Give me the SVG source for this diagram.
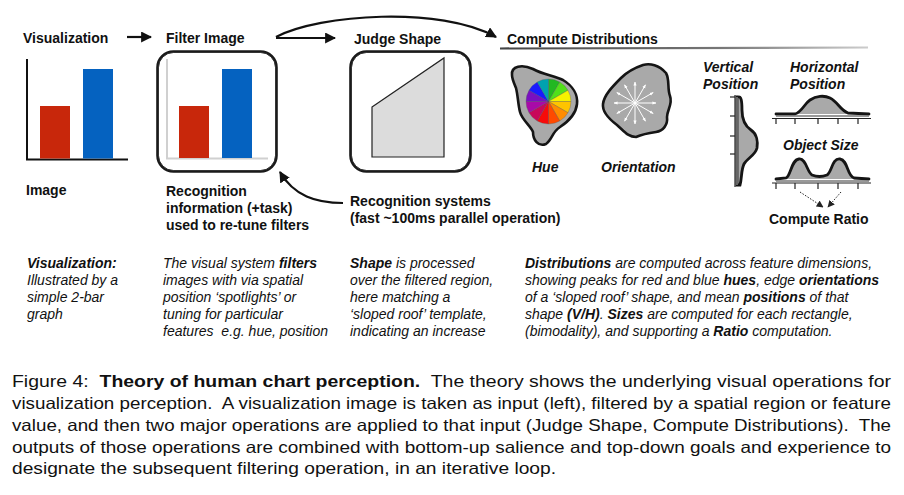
<svg xmlns="http://www.w3.org/2000/svg" width="904" height="495" viewBox="0 0 904 495">
<style>
.t{font-family:"Liberation Sans",Arial,sans-serif;font-weight:bold;font-size:14px;fill:#111}
.ti{font-family:"Liberation Sans",Arial,sans-serif;font-weight:bold;font-style:italic;font-size:14px;fill:#111}
.d{font-family:"Liberation Sans",Arial,sans-serif;font-style:italic;font-size:14px;fill:#111}
.d tspan.b{font-weight:bold}
.c{font-family:"Liberation Sans",Arial,sans-serif;font-size:16.5px;fill:#111}
.box{fill:none;stroke:#1a1a1a;stroke-width:2.6}
.box2{fill:none;stroke:#333;stroke-width:1}
.ln{fill:none;stroke:#111;stroke-width:2.2}
.blob{fill:#a9a9a9;stroke:#151515;stroke-width:2.6;stroke-linejoin:round}
.dist{fill:#a9a9a9;stroke:#151515;stroke-width:2.8;stroke-linecap:round}
.ax{stroke:#222;stroke-width:1.2;fill:none}
.ray{stroke:#fff;stroke-width:1;marker-end:url(#wh)}
</style>
<defs>
<marker id="ah" viewBox="0 0 10 10" refX="9" refY="5" markerWidth="5" markerHeight="5" orient="auto" markerUnits="strokeWidth">
<path d="M0,0 L10,5 L0,10 Z" fill="#111"/>
</marker>
<marker id="sm" viewBox="0 0 10 10" refX="9" refY="5" markerWidth="7" markerHeight="7" orient="auto" markerUnits="strokeWidth">
<path d="M0,0 L10,5 L0,10 Z" fill="#222"/>
</marker>
<marker id="wh" viewBox="0 0 10 10" refX="9" refY="5" markerWidth="4" markerHeight="4" orient="auto" markerUnits="strokeWidth">
<path d="M0,1 L10,5 L0,9 Z" fill="#fff"/>
</marker>
<linearGradient id="ul" x1="0" y1="0" x2="1" y2="0">
<stop offset="0" stop-color="#444"/>
<stop offset="0.6" stop-color="#777"/>
<stop offset="1" stop-color="#ccc"/>
</linearGradient>
</defs>

<g id="connectors">
<line class="ln" x1="127" y1="37" x2="151" y2="37" marker-end="url(#ah)"/>
<line class="ln" x1="276" y1="38" x2="335" y2="38" marker-end="url(#ah)"/>
<path class="ln" d="M276,37 C320,14 440,6 496,37" marker-end="url(#ah)"/>
<path class="ln" d="M343,203 C316,203 294,196 280,172" marker-end="url(#ah)"/>
<line x1="800" y1="192" x2="823" y2="207" stroke="#222" stroke-width="1" stroke-dasharray="1.5,1.5" marker-end="url(#sm)"/>
<line x1="841" y1="192" x2="828" y2="207" stroke="#222" stroke-width="1" stroke-dasharray="1.5,1.5" marker-end="url(#sm)"/>
</g>

<g id="visualization">
<text class="t" x="23" y="42.5">Visualization</text>
<line x1="27" y1="59" x2="27" y2="160" stroke="#111" stroke-width="2"/>
<line x1="26" y1="159.5" x2="128" y2="159.5" stroke="#111" stroke-width="2"/>
<rect x="40" y="106" width="30" height="52.5" fill="#c8270b"/>
<rect x="83" y="69" width="30" height="89.5" fill="#0562c0"/>
<text class="t" x="26" y="195">Image</text>
</g>

<g id="filter-image">
<text class="t" x="166" y="42.5">Filter Image</text>
<rect class="box" x="157.5" y="51.5" width="119" height="120" rx="16"/>
<rect class="box2" x="158.5" y="52.5" width="117" height="118" rx="15"/>
<line x1="167" y1="59" x2="167" y2="159" stroke="#d0d0d0" stroke-width="2"/>
<line x1="166" y1="158.5" x2="268" y2="158.5" stroke="#d0d0d0" stroke-width="2"/>
<rect x="179" y="106" width="30" height="52" fill="#c8270b"/>
<rect x="222" y="69" width="30" height="89" fill="#0562c0"/>
<text class="t" x="166" y="196">Recognition</text>
<text class="t" x="166" y="213">information (+task)</text>
<text class="t" x="166" y="230">used to re-tune filters</text>
</g>

<g id="judge-shape">
<text class="t" x="354" y="44">Judge Shape</text>
<rect class="box" x="350.5" y="51.5" width="120" height="120" rx="16"/>
<rect class="box2" x="351.5" y="52.5" width="118" height="118" rx="15"/>
<path d="M372,107 L444,58 L444,157 L372,157 Z" fill="#dcdcdc" stroke="#222" stroke-width="1.2"/>
</g>

<g id="recognition-systems">
<text class="t" x="350" y="206">Recognition systems</text>
<text class="t" x="350" y="223">(fast ~100ms parallel operation)</text>
</g>

<g id="compute-distributions">
<text class="t" x="507" y="44">Compute Distributions</text>
<line x1="500" y1="48.5" x2="868" y2="47.5" stroke="url(#ul)" stroke-width="2.2"/>
</g>

<g id="hue">
<path class="blob" d="M512,75 C511,66 522,64 533,69 C542,74 554,76 563,80 C573,86 578,95 577,104 C576,114 569,121 560,127 C552,132 552,140 546,144 C538,147 533,140 533,132 C531,126 522,120 520,112 C518,104 518,96 516,88 C514,83 512,79 512,75 Z"/>
<g stroke="#555" stroke-width="0.3">
<path d="M548.5,101.5 L548.5,79 A22.5,22.5 0 0 1 559.75,82.01 Z" fill="#22b822"/>
<path d="M548.5,101.5 L559.75,82.01 A22.5,22.5 0 0 1 567.99,90.25 Z" fill="#52e01a"/>
<path d="M548.5,101.5 L567.99,90.25 A22.5,22.5 0 0 1 571,101.5 Z" fill="#f6f200"/>
<path d="M548.5,101.5 L571,101.5 A22.5,22.5 0 0 1 567.99,112.75 Z" fill="#ffc400"/>
<path d="M548.5,101.5 L567.99,112.75 A22.5,22.5 0 0 1 559.75,120.99 Z" fill="#ff8c00"/>
<path d="M548.5,101.5 L559.75,120.99 A22.5,22.5 0 0 1 548.5,124 Z" fill="#ff4a00"/>
<path d="M548.5,101.5 L548.5,124 A22.5,22.5 0 0 1 537.25,120.99 Z" fill="#f70a0a"/>
<path d="M548.5,101.5 L537.25,120.99 A22.5,22.5 0 0 1 529.01,112.75 Z" fill="#c8085a"/>
<path d="M548.5,101.5 L529.01,112.75 A22.5,22.5 0 0 1 526,101.5 Z" fill="#a80aa8"/>
<path d="M548.5,101.5 L526,101.5 A22.5,22.5 0 0 1 529.01,90.25 Z" fill="#7a10c0"/>
<path d="M548.5,101.5 L529.01,90.25 A22.5,22.5 0 0 1 537.25,82.01 Z" fill="#1a1aff"/>
<path d="M548.5,101.5 L537.25,82.01 A22.5,22.5 0 0 1 548.5,79 Z" fill="#00a2b0"/>
</g>
<text class="ti" x="532" y="172">Hue</text>
</g>

<g id="orientation">
<path class="blob" d="M603,104 C604,95 613,86 621,78 C627,72 634,68 643,65 C650,63 659,65 666,73 C670,80 667,88 670,96 C673,104 667,110 667,117 C668,125 663,131 656,132 C649,133 643,134 636,137 C628,137 624,131 617,125 C609,119 602,112 603,104 Z"/>
<line class="ray" x1="635" y1="103" x2="656" y2="103"/>
<line class="ray" x1="635" y1="103" x2="653.2" y2="113.5"/>
<line class="ray" x1="635" y1="103" x2="645.5" y2="121.2"/>
<line class="ray" x1="635" y1="103" x2="635" y2="124"/>
<line class="ray" x1="635" y1="103" x2="624.5" y2="121.2"/>
<line class="ray" x1="635" y1="103" x2="616.8" y2="113.5"/>
<line class="ray" x1="635" y1="103" x2="614" y2="103"/>
<line class="ray" x1="635" y1="103" x2="616.8" y2="92.5"/>
<line class="ray" x1="635" y1="103" x2="624.5" y2="84.8"/>
<line class="ray" x1="635" y1="103" x2="635" y2="82"/>
<line class="ray" x1="635" y1="103" x2="645.5" y2="84.8"/>
<line class="ray" x1="635" y1="103" x2="653.2" y2="92.5"/>
<text class="ti" x="601" y="172">Orientation</text>
</g>

<g id="vertical-position">
<text class="ti" x="703" y="72">Vertical</text>
<text class="ti" x="703" y="89">Position</text>
<line class="ax" x1="735" y1="95" x2="735" y2="187"/>
<line class="ax" x1="730" y1="97" x2="735" y2="97"/>
<line class="ax" x1="730" y1="116" x2="735" y2="116"/>
<line class="ax" x1="730" y1="136" x2="735" y2="136"/>
<line class="ax" x1="730" y1="154" x2="735" y2="154"/>
<path class="dist" d="M738,97 C741,96 742,100 742,110 C742,120 745,126 751,130 C757,134 758,142 757,148 C755,156 747,158 744,164 C741,170 742,178 740,185 L737,185 L737,97 Z"/>
<line x1="737" y1="97" x2="737" y2="185" stroke="#666" stroke-width="2"/>
</g>

<g id="horizontal-position">
<text class="ti" x="790" y="72">Horizontal</text>
<text class="ti" x="790" y="89">Position</text>
<line class="ax" x1="772" y1="118.5" x2="871" y2="118.5"/>
<line class="ax" x1="776" y1="118.5" x2="776" y2="124"/>
<line class="ax" x1="795" y1="118.5" x2="795" y2="124"/>
<line class="ax" x1="818" y1="118.5" x2="818" y2="124"/>
<line class="ax" x1="838" y1="118.5" x2="838" y2="124"/>
<line class="ax" x1="858" y1="118.5" x2="858" y2="124"/>
<path class="dist" d="M776,114 L795,114 C802,112 804,104 810,100 C816,96 824,95 830,98 C838,102 840,110 848,113 L869,114"/>
<line x1="776" y1="116" x2="869" y2="116" stroke="#777" stroke-width="1.5"/>
</g>

<g id="object-size">
<text class="ti" x="783" y="150">Object Size</text>
<line class="ax" x1="772" y1="183" x2="871" y2="183"/>
<line class="ax" x1="776" y1="183" x2="776" y2="189"/>
<line class="ax" x1="795" y1="183" x2="795" y2="189"/>
<line class="ax" x1="818" y1="183" x2="818" y2="189"/>
<line class="ax" x1="838" y1="183" x2="838" y2="189"/>
<line class="ax" x1="858" y1="183" x2="858" y2="189"/>
<path class="dist" d="M776,179 L786,178 C791,176 791,160 799,159 C806,158 807,172 812,175 C817,177 822,177 827,175 C832,172 832,158 840,159 C848,160 847,176 854,178 L869,179"/>
<line x1="776" y1="181" x2="869" y2="181" stroke="#777" stroke-width="1.5"/>
<text class="t" x="769" y="224">Compute Ratio</text>
</g>

<g id="descriptions">
<text class="d" x="27" y="268"><tspan class="b">Visualization:</tspan></text>
<text class="d" x="27" y="285">Illustrated by a</text>
<text class="d" x="27" y="302">simple 2-bar</text>
<text class="d" x="27" y="319">graph</text>

<text class="d" x="163" y="268">The visual system <tspan class="b">filters</tspan></text>
<text class="d" x="163" y="285">images with via spatial</text>
<text class="d" x="163" y="302">position ‘spotlights’ or</text>
<text class="d" x="163" y="319">tuning for particular</text>
<text class="d" x="163" y="336" xml:space="preserve">features  e.g. hue, position</text>

<text class="d" x="350" y="268"><tspan class="b">Shape</tspan> is processed</text>
<text class="d" x="350" y="285">over the filtered region,</text>
<text class="d" x="350" y="302">here matching a</text>
<text class="d" x="350" y="319">‘sloped roof’ template,</text>
<text class="d" x="350" y="336">indicating an increase</text>

<text class="d" x="525" y="268"><tspan class="b">Distributions</tspan> are computed across feature dimensions,</text>
<text class="d" x="525" y="285">showing peaks for red and blue <tspan class="b">hues</tspan>, edge <tspan class="b">orientations</tspan></text>
<text class="d" x="525" y="302">of a ‘sloped roof’ shape, and mean <tspan class="b">positions</tspan> of that</text>
<text class="d" x="525" y="319">shape <tspan class="b">(V/H)</tspan>. <tspan class="b">Sizes</tspan> are computed for each rectangle,</text>
<text class="d" x="525" y="336">(bimodality), and supporting a <tspan class="b">Ratio</tspan> computation.</text>
</g>

<g id="caption">
<text class="c" x="12" y="387" textLength="879" lengthAdjust="spacingAndGlyphs" xml:space="preserve">Figure 4:  <tspan font-weight="bold">Theory of human chart perception.</tspan>  The theory shows the underlying visual operations for</text>
<text class="c" x="12" y="409" textLength="879" lengthAdjust="spacingAndGlyphs" xml:space="preserve">visualization perception.  A visualization image is taken as input (left), filtered by a spatial region or feature</text>
<text class="c" x="12" y="431" textLength="879" lengthAdjust="spacingAndGlyphs" xml:space="preserve">value, and then two major operations are applied to that input (Judge Shape, Compute Distributions).  The</text>
<text class="c" x="12" y="453" textLength="879" lengthAdjust="spacingAndGlyphs">outputs of those operations are combined with bottom-up salience and top-down goals and experience to</text>
<text class="c" x="12" y="474" textLength="544" lengthAdjust="spacingAndGlyphs">designate the subsequent filtering operation, in an iterative loop.</text>
</g>
</svg>
